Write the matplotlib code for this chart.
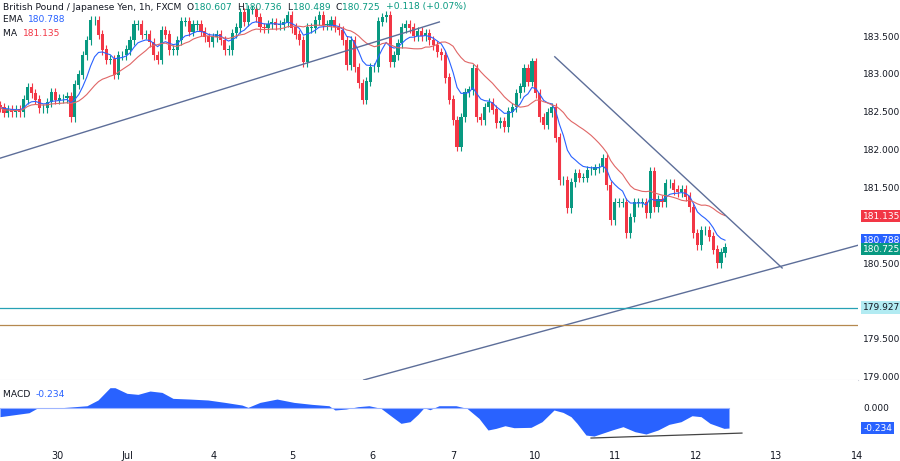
import matplotlib
matplotlib.use("Agg")
import matplotlib.pyplot as plt
import numpy as np
import pandas as pd

closes = [182.57,182.50,182.54,182.51,182.54,182.51,182.67,182.83,182.76,182.67,182.56,182.56,182.64,182.77,182.67,182.69,182.69,182.71,182.44,182.87,183.00,183.26,183.46,183.72,183.72,183.53,183.33,183.20,183.20,183.00,183.26,183.26,183.33,183.46,183.66,183.66,183.53,183.53,183.43,183.26,183.20,183.59,183.53,183.33,183.33,183.46,183.70,183.70,183.57,183.66,183.66,183.57,183.50,183.43,183.50,183.53,183.46,183.33,
 183.33,183.55,183.62,183.83,183.70,183.86,183.86,183.76,183.63,183.62,183.67,183.69,183.66,183.66,183.69,183.79,183.62,183.53,183.46,183.17,183.62,183.62,183.72,183.79,183.66,183.66,183.72,183.63,183.59,183.46,183.13,183.46,183.10,182.89,182.67,182.91,183.10,183.10,183.70,183.76,183.79,183.17,183.26,183.42,183.62,183.66,183.62,183.51,183.57,183.51,183.55,183.46,183.39,183.30,183.26,182.96,182.67,182.40,182.05,182.44,
 182.77,182.80,183.09,182.44,182.40,182.57,182.63,182.54,182.36,182.38,182.31,182.51,182.57,182.76,182.84,183.09,182.91,183.17,182.76,182.44,182.34,182.50,182.57,182.17,181.61,181.61,181.24,181.58,181.70,181.64,181.64,181.74,181.74,181.77,181.78,181.90,181.54,181.08,181.31,181.31,181.31,180.91,181.12,181.31,181.31,181.31,181.17,181.72,181.25,181.35,181.32,181.57,181.57,181.48,181.45,181.48,181.39,181.25,180.91,180.75,180.95,180.95,180.86,180.69,180.51,180.65,180.725]
first_open = 182.60
wick = 0.06

macd_x = [0,17,29,38,52,75,87,98,110,115,127,138,150,162,173,190,208,225,242,248,260,277,294,312,329,335,346,358,369,381,392,401,410,418,424,430,439,456,467,479,488,496,505,514,531,542,554,563,571,577,586,594,612,623,635,646,658,669,681,692,701,710,724,729]
macd_v = [-0.101,-0.074,-0.055,0.004,-0.004,0.016,0.027,0.094,0.238,0.238,0.172,0.160,0.199,0.183,0.113,0.105,0.094,0.066,0.035,0.008,0.066,0.105,0.066,0.043,0.027,-0.023,-0.012,0.016,0.027,-0.004,-0.101,-0.179,-0.160,-0.074,0.004,-0.020,0.027,0.027,-0.004,-0.121,-0.257,-0.238,-0.207,-0.230,-0.226,-0.160,-0.023,-0.051,-0.101,-0.179,-0.316,-0.328,-0.257,-0.218,-0.277,-0.304,-0.257,-0.191,-0.160,-0.090,-0.101,-0.179,-0.238,-0.234]

day_labels = ["30","Jul","4","5","6","7","10","11","12","13","14"]
day_pos = [14.5,32.4,54.3,74.2,94.6,115.0,135.7,156.1,176.8,196.9,217.6]
price_ticks = [179.0,179.5,180.5,181.5,182.0,182.5,183.0,183.5]

GREEN = "#089981"; RED = "#f23645"; BLUE = "#2962ff"; TXT = "#131722"
n = len(closes)
px_per_bar = 725 / (n - 1)
XMAX = 858 / px_per_bar
idx = np.arange(n)
c = np.array(closes)
o = np.concatenate([[first_open], c[:-1]])
hi = np.maximum(o, c) + wick
lo = np.minimum(o, c) - wick
s = pd.Series(c)
ema = s.ewm(span=9, adjust=False).mean()
ma = s.rolling(20, min_periods=1).mean()

fig = plt.figure(figsize=(9, 4.61), dpi=100)
ax = fig.add_axes([0, 1 - 380/461, 858/900, 380/461])
mx = fig.add_axes([0, 1 - 440/461, 858/900, 60/461], sharex=ax)
for a in (ax, mx):
    for sp in a.spines.values():
        sp.set_visible(False)
    a.tick_params(length=0)
ax.spines["bottom"].set_visible(True); ax.spines["bottom"].set_color("#d1d4dc")

cols = [GREEN if c[i] >= o[i] else RED for i in idx]
ax.vlines(idx, lo, hi, colors=cols, linewidth=0.8)
ax.bar(idx, np.abs(c - o) + 0.008, bottom=np.minimum(o, c), width=0.8, color=cols, linewidth=0)
ax.plot(idx, ema, color=BLUE, lw=0.8)
ax.plot(idx, ma, color="#e06666", lw=0.8)

tl = "#5d6e99"
ax.plot([0, 111.5], [181.90, 183.70], color=tl, lw=1)
ax.plot([140.8, 198.5], [183.24, 180.45], color=tl, lw=1)
ax.plot([92.3, XMAX], [178.97, 180.75], color=tl, lw=1)
ax.axhline(179.927, color="#26a1b5", lw=0.9)
ax.axhline(179.69, color="#b5884f", lw=0.9)
ax.set_xlim(0, XMAX)
ax.set_ylim(178.97, 183.99)
ax.set_yticks([]); ax.tick_params(labelbottom=False)

def rlab(a, y, txt, fc=None, tc=TXT):
    kw = dict(transform=a.get_yaxis_transform(), ha="left", va="center", fontsize=6.5, color=tc, clip_on=False)
    if fc:
        kw["bbox"] = dict(boxstyle="square,pad=0.2", fc=fc, ec="none")
    a.text(1.006, y, txt, **kw)

for p in price_ticks:
    rlab(ax, p, f"{p:.3f}")
rlab(ax, 181.135, "181.135", RED, "white")
rlab(ax, 180.81, "180.788", BLUE, "white")
rlab(ax, 180.70, "180.725", GREEN, "white")
rlab(ax, 179.927, "179.927", "#b2ebf2", TXT)

mxp = np.array(macd_x) / px_per_bar
mx.fill_between(mxp, 0, macd_v, color=BLUE, lw=0)
mx.plot([mxp[0], mxp[-1]], [0, 0], color="#9fb6ff", lw=0.8)
mx.plot([150, 188.3], [-0.351, -0.293], color="#444", lw=0.9)
mx.set_ylim(-0.374, 0.328)
mx.set_yticks([])
rlab(mx, 0.0, "0.000")
rlab(mx, -0.234, "-0.234", BLUE, "white")
mx.set_xticks(day_pos)
mx.set_xticklabels(day_labels, fontsize=7, color=TXT)
mx.tick_params(axis="x", pad=8)

fig.canvas.draw()
r = fig.canvas.get_renderer()
def seq(x, y, parts, fs=6.6):
    for txt, col in parts:
        t = fig.text(x, y, txt, color=col, fontsize=fs, va="center", ha="left")
        bb = t.get_window_extent(r)
        x += bb.width / fig.bbox.width
seq(0.003, 1 - 7/461, [("British Pound / Japanese Yen, 1h, FXCM  ", TXT), ("O", TXT), ("180.607  ", GREEN),
    ("H", TXT), ("180.736  ", GREEN), ("L", TXT), ("180.489  ", GREEN), ("C", TXT), ("180.725  ", GREEN), ("+0.118 (+0.07%)", GREEN)])
seq(0.003, 1 - 20/461, [("EMA  ", TXT), ("180.788", BLUE)])
seq(0.003, 1 - 34/461, [("MA  ", TXT), ("181.135", RED)])
seq(0.003, 1 - 394/461, [("MACD  ", TXT), ("-0.234", BLUE)])
fig.savefig("out.png", dpi=100)
